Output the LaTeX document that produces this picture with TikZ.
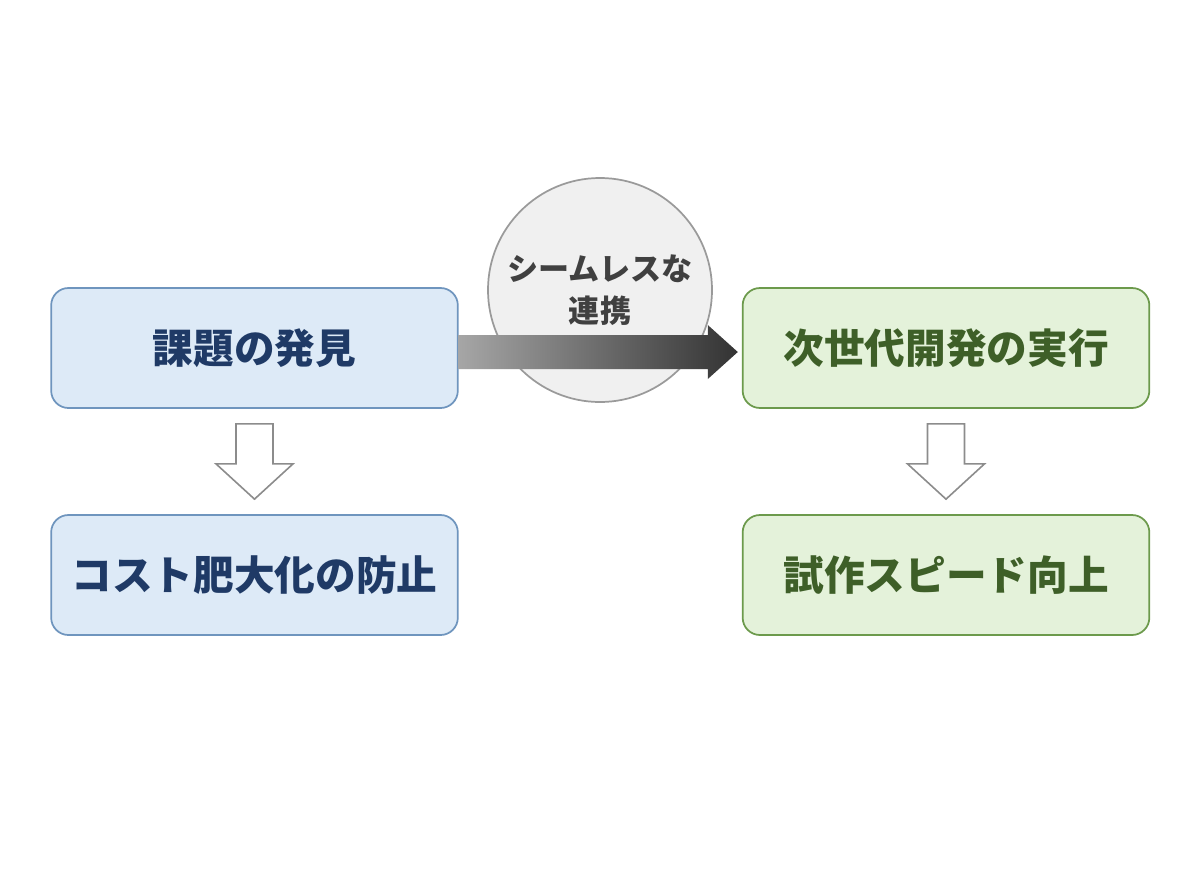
\documentclass[tikz,border=0pt]{standalone}
\usepackage{fontspec}
\setmainfont{Noto Sans CJK JP}
\usetikzlibrary{calc}

\definecolor{bluefill}{HTML}{DDEAF7}
\definecolor{blueline}{HTML}{6F95BE}
\definecolor{bluetext}{HTML}{1F3A66}
\definecolor{greenfill}{HTML}{E4F2DA}
\definecolor{greenline}{HTML}{6C9A4C}
\definecolor{greentext}{HTML}{3E5F28}
\definecolor{circfill}{HTML}{F0F0F0}
\definecolor{circline}{HTML}{9A9A9A}

\tikzset{
  box/.style={draw, rounded corners=13pt, line width=1.3pt,
    minimum width=305pt, minimum height=90pt, font=\fontsize{30.5}{36}\selectfont\bfseries},
  bluebox/.style={box, fill=bluefill, draw=blueline, text=bluetext},
  greenbox/.style={box, fill=greenfill, draw=greenline, text=greentext},
  downarrow/.style={draw=gray!90, line width=1.2pt, fill=white}
}

\begin{document}
\begin{tikzpicture}[x=0.75pt, y=-0.75pt]
    \useasboundingbox (0,0) rectangle (1200,896);

    % Boxes
    \node[bluebox] (problem) at (254.5,348) {課題の発見};
    \node[bluebox] (prevent) at (254.5,575) {コスト肥大化の防止};
    \node[greenbox] (execute) at (946,348) {次世代開発の実行};
    \node[greenbox] (speedup) at (946,575) {試作スピード向上};

    % Link circle
    \node[circle, draw=circline, fill=circfill, line width=1.3pt, minimum size=168pt,
      align=center, text=black!75, font=\fontsize{23.3}{31.5}\selectfont\bfseries]
      (link) at (600,290) {シームレスな\\連携};

    % Shaded arrow between the two top boxes
    \shade[left color=gray!70, right color=black!80]
      ($(problem.east)+(0,-13)$) -- ($(execute.west)+(-34,-13)$)
      -- ($(execute.west)+(-34,-23)$) -- ($(execute.west)+(-4,4)$)
      -- ($(execute.west)+(-34,31)$) -- ($(execute.west)+(-34,21)$)
      -- ($(problem.east)+(0,21)$) -- cycle;

    % Hollow down arrows
    \foreach \top/\bot in {problem/prevent, execute/speedup} {
      \draw[downarrow]
        ($(\top.south)+(-18.5,15)$) -- ($(\top.south)+(18.5,15)$)
        -- ($(\top.south)+(18.5,55)$) -- ($(\top.south)+(38.5,55)$)
        -- ($(\bot.north)+(0,-15)$) -- ($(\top.south)+(-38.5,55)$)
        -- ($(\top.south)+(-18.5,55)$) -- cycle;
    }

\end{tikzpicture}
\end{document}
